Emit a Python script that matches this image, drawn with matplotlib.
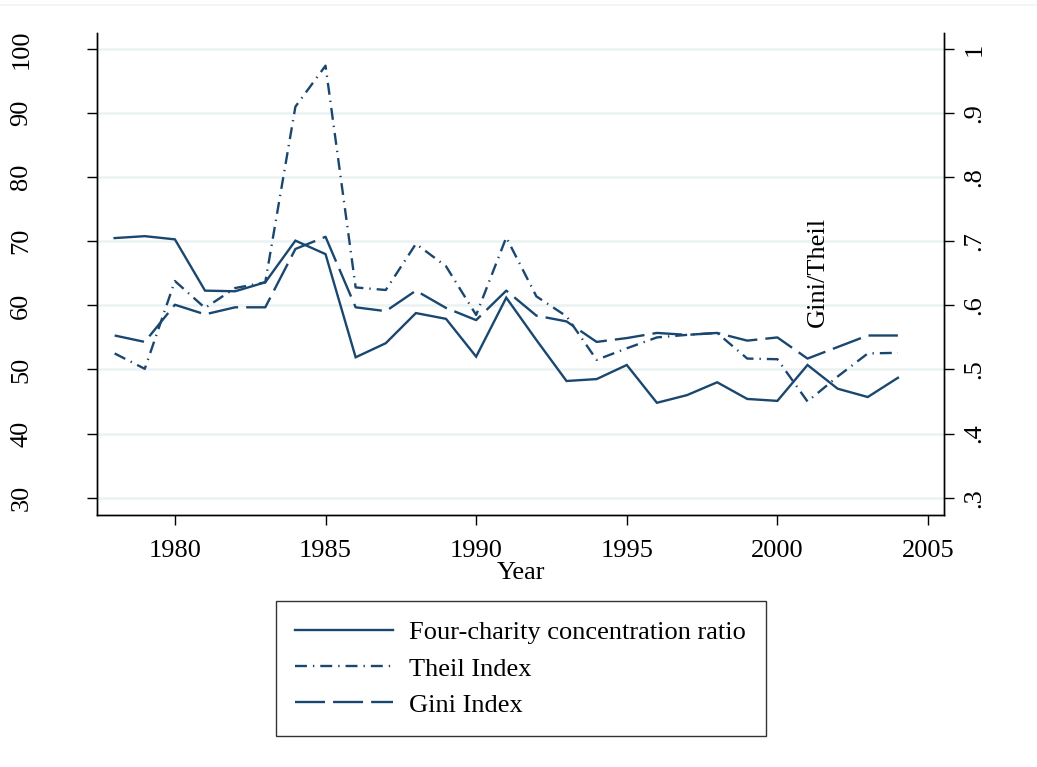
import matplotlib
matplotlib.use("Agg")
import matplotlib.pyplot as plt
from matplotlib.lines import Line2D

# Year, concentration ratio (left axis), Theil and Gini (right axis)
years = list(range(1978, 2005))
four_charity = [70.5, 70.8, 70.3, 62.3, 62.2, 63.6, 70.1, 68.0, 51.9, 54.1,
                58.8, 57.9, 52.0, 61.2, 54.6, 48.2, 48.5, 50.7, 44.8, 46.0,
                48.0, 45.4, 45.1, 50.7, 47.0, 45.7, 48.7]
theil = [0.525, 0.501, 0.638, 0.596, 0.627, 0.636, 0.910, 0.974, 0.628, 0.624,
         0.696, 0.661, 0.585, 0.706, 0.614, 0.583, 0.515, 0.533, 0.550, 0.554,
         0.557, 0.517, 0.516, 0.450, 0.489, 0.525, 0.526]
gini = [0.553, 0.543, 0.601, 0.586, 0.597, 0.597, 0.688, 0.707, 0.597, 0.591,
        0.623, 0.596, 0.577, 0.623, 0.584, 0.575, 0.543, 0.549, 0.557, 0.554,
        0.557, 0.545, 0.550, 0.517, 0.535, 0.553, 0.553]

left_ticks = [30, 40, 50, 60, 70, 80, 90, 100]
right_ticks = [0.3, 0.4, 0.5, 0.6, 0.7, 0.8, 0.9, 1.0]
right_labels = [".3", ".4", ".5", ".6", ".7", ".8", ".9", "1"]
x_ticks = [1980, 1985, 1990, 1995, 2000, 2005]

navy = "#1a476f"
grid_col = "#eaf2f3"

plt.rcParams["font.family"] = ["Liberation Serif", "DejaVu Serif"]
plt.rcParams["font.size"] = 19
plt.rcParams["lines.scale_dashes"] = False

fig = plt.figure(figsize=(10.37, 7.67), dpi=100, facecolor="white")
ax = fig.add_axes([0.094, 0.3286, 0.8163, 0.6284])
ax2 = ax.twinx()

# faint border line along the top of the image
fig.add_artist(Line2D([0, 1], [1 - 5 / 767] * 2, color="#f1f3f4", lw=1.2,
                      transform=fig.transFigure))

ylo, yhi = 27.3, 102.5
ax.set_ylim(ylo, yhi)
ax2.set_ylim(ylo / 100, yhi / 100)
ax.set_xlim(1977.43, 2005.53)

# grid
for t in left_ticks:
    ax.axhline(t, color=grid_col, lw=1.8, zorder=0)

lw = 1.7
l1, = ax.plot(years, four_charity, color=navy, lw=lw, solid_joinstyle="miter")
l2, = ax2.plot(years, theil, color=navy, lw=lw, dashes=(8.6, 4.3, 1.0, 4.3))
l3, = ax2.plot(years, gini, color=navy, lw=lw, dashes=(21.6, 5.8))

ax.set_yticks(left_ticks)
ax.set_yticklabels([str(t) for t in left_ticks], rotation=90, va="center")
ax2.set_yticks(right_ticks)
ax2.set_yticklabels(right_labels, rotation=90, va="center")
ax.set_xticks(x_ticks)

ax.tick_params(axis="y", direction="out", length=7, width=1, pad=40)
ax2.tick_params(axis="y", direction="out", length=7, width=1, pad=7)
ax.tick_params(axis="x", direction="out", length=7, width=1, pad=11)

for a in (ax, ax2):
    a.spines["top"].set_visible(False)
    for s in ("left", "right", "bottom"):
        a.spines[s].set_linewidth(1.0)

ax.set_xlabel("Year", labelpad=0)
ax.text(2001.35, 56.7, "Gini/Theil", rotation=90, ha="center", va="bottom")

handles = [Line2D([], [], color=navy, lw=lw),
           Line2D([], [], color=navy, lw=lw, dashes=(8.6, 4.3, 1.0, 4.3)),
           Line2D([], [], color=navy, lw=lw, dashes=(21.6, 5.8))]
labels = ["Four-charity concentration ratio", "Theil Index", "Gini Index"]
leg = fig.legend(handles, labels, loc="center", bbox_to_anchor=(0.502, 0.128),
                 frameon=True, fancybox=False, edgecolor="black",
                 handlelength=3.7, handletextpad=0.6, labelspacing=0.48,
                 borderpad=0.75, borderaxespad=0)
leg.get_frame().set_linewidth(1.0)

fig.savefig("out.png", dpi=100, facecolor="white")
